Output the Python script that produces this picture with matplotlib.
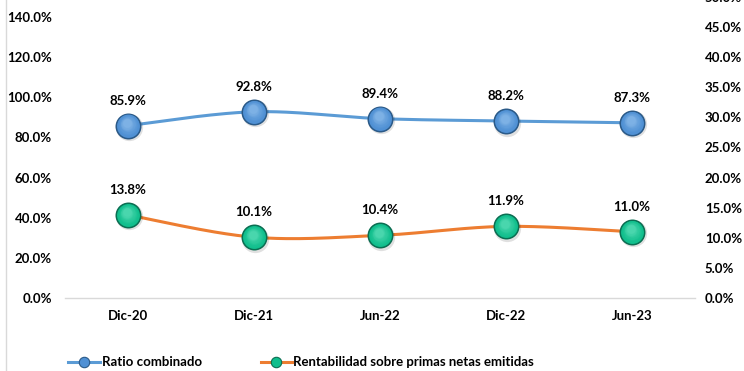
import numpy as np
import matplotlib
matplotlib.use("Agg")
import matplotlib.pyplot as plt
from matplotlib.transforms import offset_copy
from matplotlib.lines import Line2D
from matplotlib.colors import to_rgb

plt.rcParams['font.family'] = ['Lato', 'DejaVu Sans']
plt.rcParams['font.weight'] = 'bold'

categories = ["Dic-20", "Dic-21", "Jun-22", "Dic-22", "Jun-23"]
ratio_combinado = [85.9, 92.8, 89.4, 88.2, 87.3]
rentabilidad = [13.8, 10.1, 10.4, 11.9, 11.0]
left_ticks = [0, 20, 40, 60, 80, 100, 120, 140]
right_ticks = [0, 5, 10, 15, 20, 25, 30, 35, 40, 45, 50]
series_names = ["Ratio combinado", "Rentabilidad sobre primas netas emitidas"]

BLUE_LINE = "#5B9BD5"
ORANGE_LINE = "#ED7D31"
GRID_GRAY = "#D9D9D9"
TXT = "#000000"


def smooth_curve(xs, ys, n=40):
    """Bezier smoothing through the points (Catmull-Rom style control points)."""
    pts = np.column_stack([xs, ys]).astype(float)
    p = np.vstack([pts[0], pts, pts[-1]])
    out = []
    t = np.linspace(0, 1, n)[:, None]
    for i in range(1, len(p) - 2):
        p0, p1, p2, p3 = p[i - 1], p[i], p[i + 1], p[i + 2]
        c1 = p1 + (p2 - p0) / 6.0
        c2 = p2 - (p3 - p1) / 6.0
        seg = ((1 - t) ** 3) * p1 + 3 * ((1 - t) ** 2) * t * c1 \
            + 3 * (1 - t) * t ** 2 * c2 + t ** 3 * p2
        out.append(seg if i == 1 else seg[1:])
    return np.vstack(out)


def mix(c1, c2, f):
    a = np.array(to_rgb(c1))
    b = np.array(to_rgb(c2))
    return tuple(a + (b - a) * f)


def spheres(ax, fig, xs, ys, base, dark, light, size=350, z=5):
    """Shaded ball markers: soft shadow, dark rim and a gentle highlight."""
    sh = offset_copy(ax.transData, fig=fig, x=1.0, y=-1.5, units='dots')
    ax.scatter(xs, ys, s=size * 1.10, color=(0, 0, 0, 0.12), lw=0,
               transform=sh, zorder=z)
    ax.scatter(xs, ys, s=size, color=dark, lw=0, zorder=z + 1)
    steps = 14
    for k in range(steps):
        f = k / (steps - 1)
        r = 0.88 - 0.55 * f
        col = mix(base, light, f ** 1.5 * 0.6)
        shift = f * 2.5
        tr = offset_copy(ax.transData, fig=fig, x=-shift * 0.3, y=shift,
                         units='dots')
        ax.scatter(xs, ys, s=size * r * r, color=col, lw=0,
                   transform=tr, zorder=z + 2 + k * 0.01)


fig = plt.figure(figsize=(7.44, 3.71), dpi=100)
fig.patch.set_facecolor("white")

ax = fig.add_axes([65 / 744, 73 / 371, 630 / 744, 301 / 371])
ax2 = ax.twinx()

x = np.arange(len(categories))
ax.set_xlim(-0.5, len(categories) - 0.5)
ax.set_ylim(0, 150)
ax2.set_ylim(0, 50)

for a in (ax, ax2):
    for s in ("top", "left", "right", "bottom"):
        a.spines[s].set_visible(False)
    a.patch.set_visible(False)
ax.spines["bottom"].set_visible(True)
ax.spines["bottom"].set_color(GRID_GRAY)
ax.spines["bottom"].set_linewidth(1.0)

# category boundaries as tick marks, category names as minor labels
ax.set_xticks(np.arange(-0.5, len(categories), 1.0))
ax.set_xticklabels([])
ax.tick_params(axis="x", which="major", length=5, color=GRID_GRAY, width=1,
               direction="out")
ax.set_xticks(x, minor=True)
ax.set_xticklabels(categories, minor=True)
ax.tick_params(axis="x", which="minor", length=0, pad=9, labelsize=9.5,
               labelcolor=TXT)

ax.set_yticks(left_ticks)
ax.set_yticklabels([f"{v:.1f}%" for v in left_ticks])
ax.tick_params(axis="y", length=0, pad=9.5, labelsize=9.5, labelcolor=TXT)
ax2.set_yticks(right_ticks)
ax2.set_yticklabels([f"{v:.1f}%" for v in right_ticks])
ax2.tick_params(axis="y", length=0, pad=7, labelsize=9.5, labelcolor=TXT)
ax2.set_xticks([])

for lab in ax.get_yticklabels() + ax2.get_yticklabels() + \
        ax.get_xticklabels(minor=True):
    lab.set_fontweight("bold")

# lines
cb = smooth_curve(x, ratio_combinado)
ax.plot(cb[:, 0], cb[:, 1], color=BLUE_LINE, lw=2.2, zorder=3,
        solid_capstyle="round")
co = smooth_curve(x, rentabilidad)
ax2.plot(co[:, 0], co[:, 1], color=ORANGE_LINE, lw=2.2, zorder=3,
         solid_capstyle="round")

spheres(ax, fig, x, ratio_combinado, "#4F90D4", "#2B5A88", "#9CC7F0")
spheres(ax2, fig, x, rentabilidad, "#10BE8C", "#0B6E52", "#6FE6C3")

for xi, v in zip(x, ratio_combinado):
    ax.annotate(f"{v:.1f}%", (xi, v), xytext=(0, 18), textcoords="offset points",
                ha="center", va="center", fontsize=9.5, fontweight="bold",
                color=TXT, zorder=10)
for xi, v in zip(x, rentabilidad):
    ax2.annotate(f"{v:.1f}%", (xi, v), xytext=(0, 18), textcoords="offset points",
                 ha="center", va="center", fontsize=9.5, fontweight="bold",
                 color=TXT, zorder=10)

# chart frame edge on the left
fig.add_artist(Line2D([5.5 / 744, 5.5 / 744], [0, 1], transform=fig.transFigure,
                      color=GRID_GRAY, lw=1))

# legend
ly = 9 / 371
legend_items = [
    (68, 100, 84, 102, BLUE_LINE, "#4F90D4", "#2B5A88", series_names[0]),
    (261, 292, 276, 293, ORANGE_LINE, "#10BE8C", "#0B6E52", series_names[1]),
]
for x0, x1, xm, xt, lc, fc, ec, name in legend_items:
    fig.add_artist(Line2D([x0 / 744, x1 / 744], [ly, ly], transform=fig.transFigure,
                          color=lc, lw=2.2))
    fig.add_artist(Line2D([xm / 744], [ly], transform=fig.transFigure,
                          marker="o", markersize=7.5, markerfacecolor=fc,
                          markeredgecolor=ec, markeredgewidth=0.8))
    fig.text(xt / 744, ly, name, ha="left", va="center", fontsize=9.5,
             fontweight="bold", color=TXT)

fig.savefig("out.png", dpi=100, facecolor="white")
